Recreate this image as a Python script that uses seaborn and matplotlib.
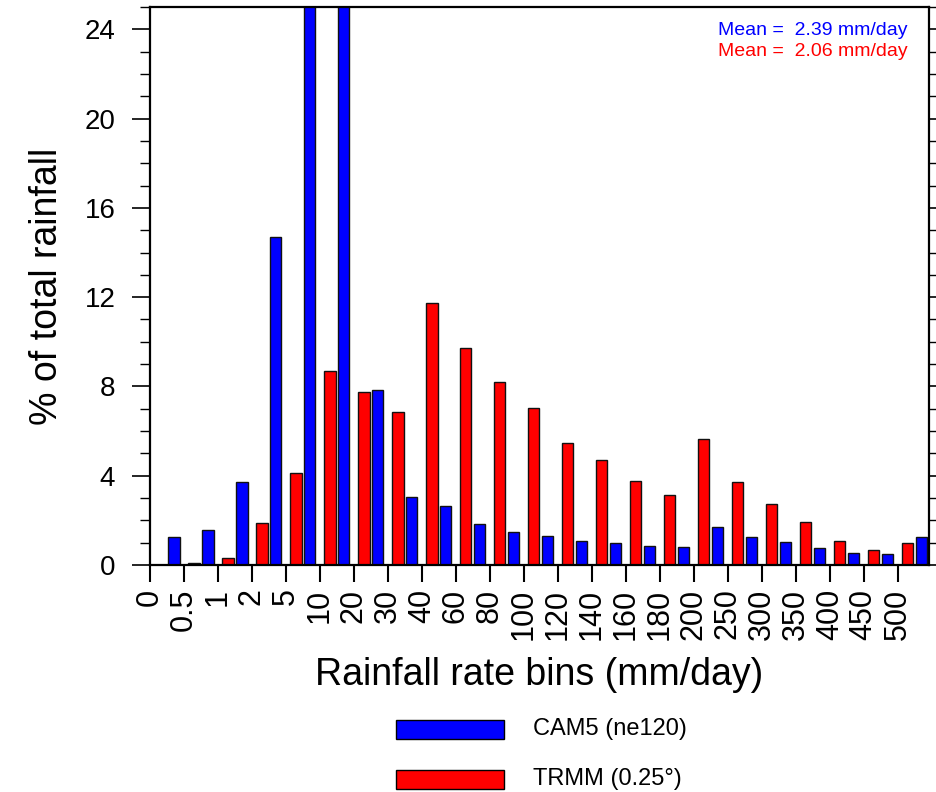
import matplotlib
matplotlib.use("Agg")
import matplotlib.pyplot as plt
from matplotlib.patches import Rectangle
from matplotlib.ticker import MultipleLocator, FixedLocator
import seaborn as sns
import pandas as pd

# ---- data ----
bin_edges = ["0", "0.5", "1", "2", "5", "10", "20", "30", "40", "60", "80", "100",
             "120", "140", "160", "180", "200", "250", "300", "350", "400", "450", "500"]
cam5 = [1.24, 1.55, 3.74, 14.68, 28.0, 26.5, 7.83, 3.03, 2.66, 1.84, 1.48, 1.29,
        1.06, 0.99, 0.84, 0.79, 1.70, 1.26, 1.02, 0.75, 0.56, 0.48, 1.26]
trmm = [0.0, 0.08, 0.31, 1.88, 4.11, 8.68, 7.73, 6.87, 11.75, 9.74, 8.18, 7.02,
        5.48, 4.70, 3.76, 3.15, 5.64, 3.71, 2.73, 1.91, 1.08, 0.69, 0.99]
series_names = ["CAM5 (ne120)", "TRMM (0.25°)"]
series_colors = ["#0000ff", "#ff0000"]
mean_labels = ["Mean =  2.39 mm/day", "Mean =  2.06 mm/day"]

bins = [f"b{i}" for i in range(len(cam5))]
df = pd.DataFrame({
    "bin": bins * 2,
    "pct": cam5 + trmm,
    "model": [series_names[0]] * len(bins) + [series_names[1]] * len(bins),
})

sns.set_style("ticks")
plt.rcParams["font.family"] = ["Liberation Sans", "DejaVu Sans"]
plt.rcParams.update({"text.color": "black", "axes.labelcolor": "black",
                     "xtick.color": "black", "ytick.color": "black",
                     "axes.edgecolor": "black"})

fig = plt.figure(figsize=(9.37, 7.92), dpi=100)
ax = fig.add_axes([150 / 937, 1 - 565 / 792, (929 - 150) / 937, (565 - 7) / 792])

sns.barplot(data=df, x="bin", y="pct", hue="model", order=bins,
            hue_order=[series_names[1], series_names[0]],
            palette={series_names[0]: series_colors[0], series_names[1]: series_colors[1]},
            width=0.82, gap=0.2, saturation=1, edgecolor="#111111", linewidth=1.0,
            legend=False, ax=ax, errorbar=None)

ax.set_ylim(0, 25)
ax.set_xlim(-0.5, 22.42)
ax.xaxis.set_major_locator(FixedLocator([i - 0.5 for i in range(len(bin_edges))]))
ax.set_xticklabels(bin_edges, rotation=90, fontsize=22)
ax.yaxis.set_major_locator(MultipleLocator(4))
ax.yaxis.set_minor_locator(MultipleLocator(1))
for lab in ax.get_yticklabels():
    lab.set_fontsize(20)

for s in ax.spines.values():
    s.set_visible(True)
    s.set_linewidth(1.6)
    s.set_color("black")

ax.tick_params(axis="x", which="major", direction="out", length=12, width=1.5, pad=5)
ax.tick_params(axis="y", which="major", direction="out", length=13, width=1.2, pad=12,
               right=True, left=True)
ax.tick_params(axis="y", which="minor", direction="out", length=7, width=1.0,
               right=True, left=True)
ax.tick_params(top=False)

ax.set_xlabel("Rainfall rate bins (mm/day)", fontsize=27, labelpad=12)
ax.set_ylabel("% of total rainfall", fontsize=27, labelpad=14)

# mean annotations
fig.text(908 / 937, 1 - 35 / 792, mean_labels[0], color=series_colors[0], fontsize=14,
         ha="right", va="baseline")
fig.text(908 / 937, 1 - 56 / 792, mean_labels[1], color=series_colors[1], fontsize=14,
         ha="right", va="baseline")

# legend below the plot
for k, (name, col, ytop) in enumerate(zip(series_names, series_colors, [720, 770])):
    fig.add_artist(Rectangle((396 / 937, 1 - (ytop + 19) / 792), 108 / 937, 19 / 792,
                             transform=fig.transFigure, facecolor=col,
                             edgecolor="black", linewidth=1.0))
    fig.text(533 / 937, 1 - (ytop + 9.5) / 792, name, fontsize=17, ha="left",
             va="center")

fig.savefig("out.png", dpi=100)
